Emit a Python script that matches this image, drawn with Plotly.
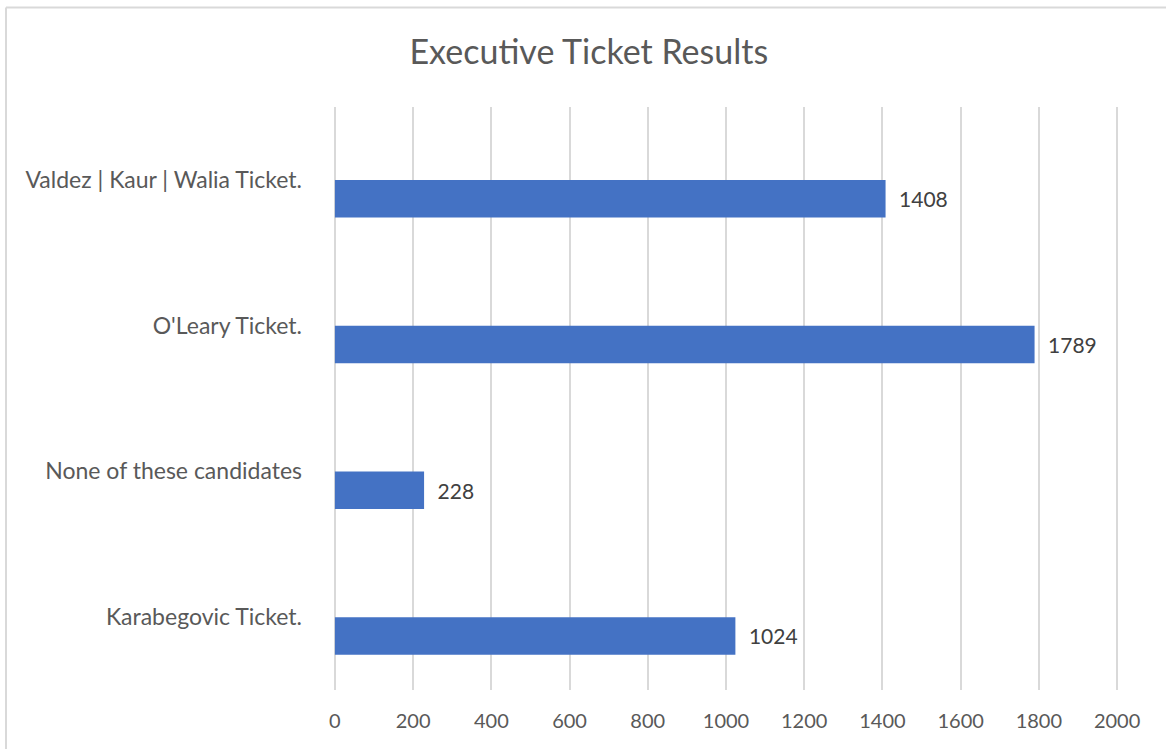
import plotly.graph_objects as go

categories = ["Karabegovic Ticket.", "None of these candidates", "O'Leary Ticket.", "Valdez | Kaur | Walia Ticket."]
votes = [1024, 228, 1789, 1408]
x_ticks = [0, 200, 400, 600, 800, 1000, 1200, 1400, 1600, 1800, 2000]

FONT = "Lato"
L, R, T, B = 331, 45, 107, 59
PW, PH = 1166 - L - R, 749 - T - B

fig = go.Figure()
fig.add_trace(go.Bar(
    y=categories, x=votes, orientation="h",
    width=0.258, offset=-0.258,
    marker=dict(color="#4472C4", line=dict(width=0)),
    text=votes, texttemplate="\u2002%{x}", textposition="outside",
    textfont=dict(family=FONT, size=21, color="#404040"),
    cliponaxis=False,
))

fig.update_layout(
    width=1166, height=749,
    margin=dict(l=L, r=R, t=T, b=B),
    paper_bgcolor="white", plot_bgcolor="white",
    showlegend=False,
    title=dict(text="Executive Ticket Results", x=0.505, xanchor="center", y=0.93, yanchor="middle",
               font=dict(family=FONT, size=34, color="#595959")),
    xaxis=dict(range=[-10, 2010], tickvals=x_ticks, showgrid=True, gridcolor="#d9d9d9", gridwidth=1.5,
               zeroline=True, zerolinecolor="#d9d9d9", zerolinewidth=1.5,
               showline=False, ticks="", ticklabelstandoff=17,
               tickfont=dict(family=FONT, size=20, color="#595959")),
    yaxis=dict(showgrid=False, zeroline=False, showline=False, ticks="", ticklabelstandoff=28,
               range=[-0.5, 3.5],
               tickfont=dict(family=FONT, size=23, color="#595959")),
    shapes=[
        dict(type="line", xref="paper", yref="paper",
             x0=(6 - L) / PW, x1=(6 - L) / PW, y0=-B / PH, y1=(749 - 7.5 - B) / PH,
             line=dict(color="#d9d9d9", width=2)),
        dict(type="line", xref="paper", yref="paper",
             x0=(6 - L) / PW, x1=(1166 - L) / PW, y0=(749 - 7.5 - B) / PH, y1=(749 - 7.5 - B) / PH,
             line=dict(color="#d9d9d9", width=2)),
    ],
)
fig.write_html("out.html", config={"displayModeBar": False},
               post_script="document.body.style.margin='0';document.body.style.overflow='hidden';")
